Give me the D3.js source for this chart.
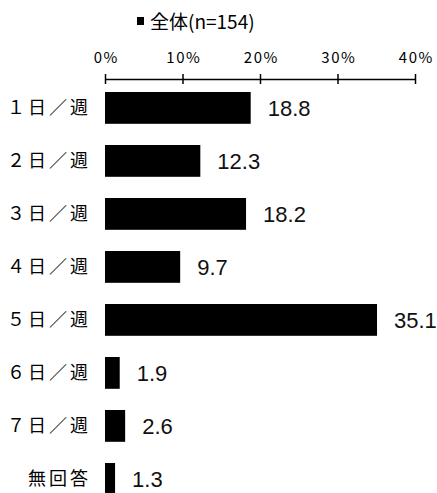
<!DOCTYPE html>
<html><head><meta charset="utf-8">
<script src="https://cdn.jsdelivr.net/npm/d3@7"></script>
<style>body{margin:0;background:#fff}svg{display:block}</style>
</head><body>
<svg id="c" width="437" height="493"></svg>
<script>
const categories = ["１日／週","２日／週","３日／週","４日／週","５日／週","６日／週","７日／週","無回答"];
const values = [18.8,12.3,18.2,9.7,35.1,1.9,2.6,1.3];
const tickValues = [0,10,20,30,40];
const legendLabel = "全体(n=154)";

const svg = d3.select("#c");
const font = "'Noto Sans CJK JP', sans-serif";
const x = d3.scaleLinear().domain([0,40]).range([105,415]);
const y = d3.scaleBand().domain(categories).range([81.4,505.4]).paddingInner(0.4).paddingOuter(0.2);

// axis
const axis = d3.axisTop(x).tickValues(tickValues).tickFormat(d=>d+"%").tickSizeInner(5).tickSizeOuter(0).tickPadding(11);
const g = svg.append("g").attr("transform","translate(0,79)").call(axis);
g.select(".domain").attr("stroke","#000").attr("stroke-width",1.5);
g.selectAll(".tick line").attr("y1",5).attr("y2",-5).attr("stroke","#000").attr("stroke-width",1.5);
g.selectAll(".tick text").attr("font-family",font).attr("font-size",15)
  .attr("letter-spacing",1.5).attr("dx",0.8).attr("fill","#000");

// bars
svg.selectAll("rect.bar").data(values).join("rect").attr("class","bar")
  .attr("x",x(0)).attr("y",(d,i)=>y(categories[i]))
  .attr("width",d=>x(d)-x(0)).attr("height",y.bandwidth()).attr("fill","#000");

// value labels
svg.selectAll("text.val").data(values).join("text").attr("class","val")
  .attr("x",d=>x(d)+17).attr("y",(d,i)=>y(categories[i])+y.bandwidth()/2)
  .attr("dy","0.36em").attr("font-family","'Liberation Sans', Arial, sans-serif").attr("font-size",22)
  .attr("fill","#111").text(d=>d.toFixed(1));

// category labels
svg.selectAll("text.cat").data(categories).join("text").attr("class","cat")
  .attr("x",91).attr("y",d=>y(d)+y.bandwidth()/2).attr("dy","0.36em")
  .attr("text-anchor","end").attr("font-family",font).attr("font-size",18)
  .attr("letter-spacing",3).text(d=>d);

// legend
svg.append("rect").attr("x",137).attr("y",17).attr("width",7).attr("height",8).attr("fill","#000");
svg.append("text").attr("x",150).attr("y",29).attr("font-family",font).attr("font-size",19).text(legendLabel);
</script>
</body></html>
